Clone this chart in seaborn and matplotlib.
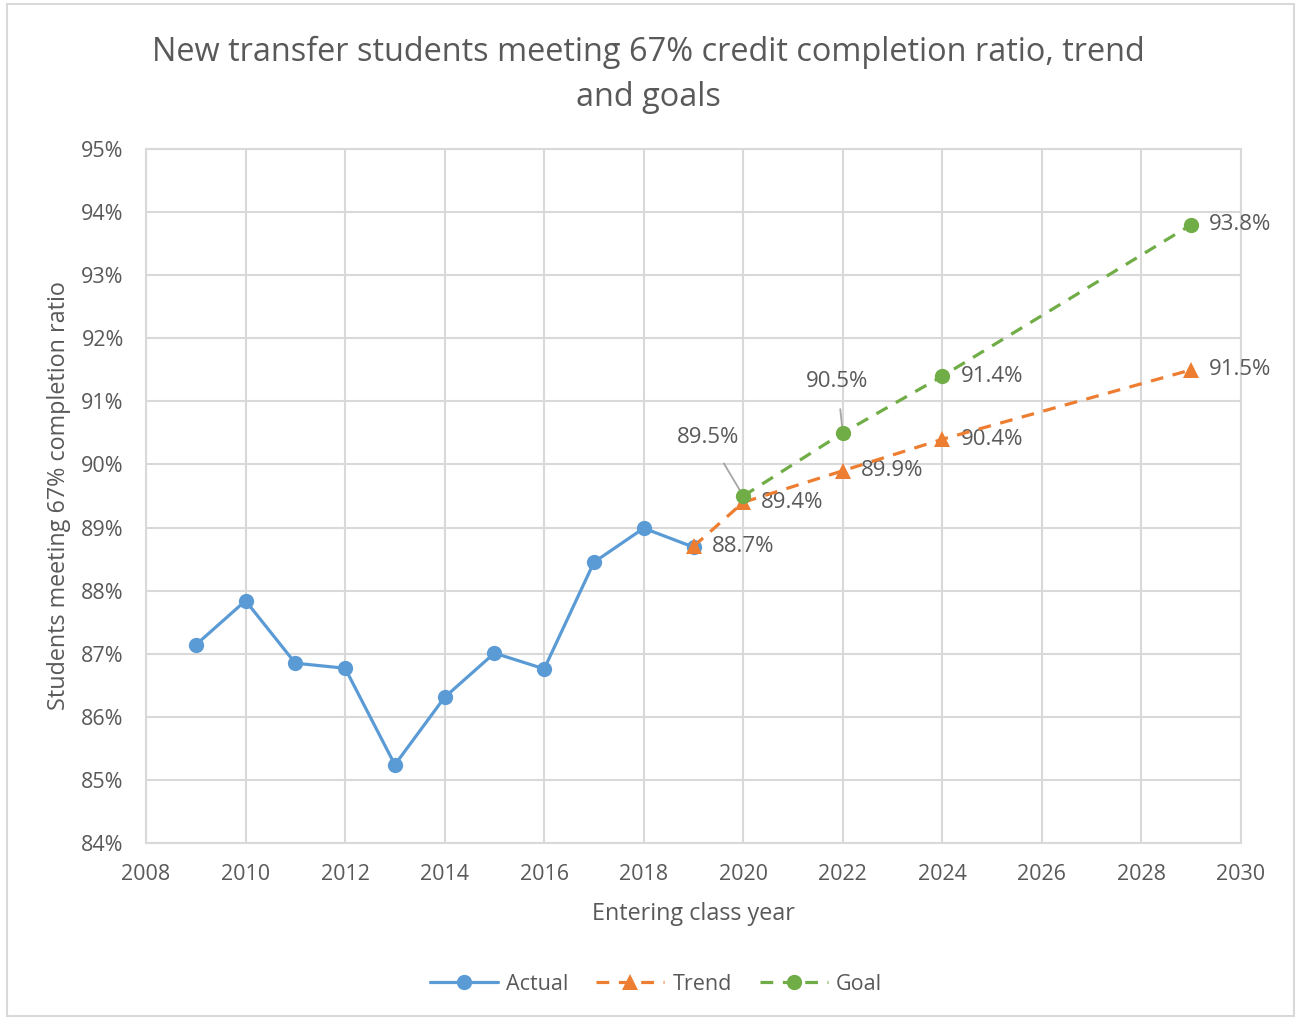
import matplotlib
matplotlib.use("Agg")
import matplotlib.pyplot as plt
import pandas as pd
import seaborn as sns
from matplotlib.patches import Rectangle
from matplotlib.ticker import FuncFormatter

# data
actual_years = [2009, 2010, 2011, 2012, 2013, 2014, 2015, 2016, 2017, 2018, 2019]
actual_vals = [87.14, 87.84, 86.85, 86.77, 85.24, 86.31, 87.01, 86.76, 88.45, 88.99, 88.69]
trend_years = [2019, 2020, 2022, 2024, 2029]
trend_vals = [88.7, 89.4, 89.9, 90.4, 91.5]
goal_years = [2020, 2022, 2024, 2029]
goal_vals = [89.5, 90.5, 91.4, 93.8]

blue = "#5B9BD5"
orange = "#ED7D31"
green = "#70AD47"
txt = "#595959"
grid = "#D9D9D9"

sns.set_theme(style="white")
plt.rcParams['font.family'] = ['Open Sans', 'DejaVu Sans']

fig = plt.figure(figsize=(12.96, 10.18), dpi=100)
ax = fig.add_axes([146 / 1296, 1 - 843 / 1018, (1241 - 146) / 1296, (843 - 149) / 1018])

df_a = pd.DataFrame({'year': actual_years, 'val': actual_vals})
df_t = pd.DataFrame({'year': trend_years, 'val': trend_vals})
df_g = pd.DataFrame({'year': goal_years, 'val': goal_vals})

sns.lineplot(df_a, x='year', y='val', ax=ax, color=blue, lw=2.3, marker='o',
             markersize=11, markeredgewidth=0, label='Actual', zorder=3)
sns.lineplot(df_t, x='year', y='val', ax=ax, color=orange, lw=2.3, marker='^',
             markersize=11, markeredgewidth=0, label='Trend', zorder=4)
sns.lineplot(df_g, x='year', y='val', ax=ax, color=green, lw=2.3, marker='o',
             markersize=11, markeredgewidth=0, label='Goal', zorder=5)
ax.lines[1].set_dashes([4, 3])
ax.lines[2].set_dashes([4, 3])

ax.set_xlim(2008, 2030)
ax.set_ylim(84, 95)
ax.set_xticks(range(2008, 2031, 2))
ax.set_yticks(range(84, 96))
ax.yaxis.set_major_formatter(FuncFormatter(lambda v, p: f"{v:.0f}%"))
ax.grid(True, color=grid, lw=1.5)
ax.set_axisbelow(True)
for s in ax.spines.values():
    s.set_color(grid)
    s.set_linewidth(1.5)
ax.tick_params(axis='both', length=0, labelsize=15.5, labelcolor=txt)
ax.tick_params(axis='x', pad=15)
ax.tick_params(axis='y', pad=16)

ax.set_xlabel("Entering class year", fontsize=16.8, color=txt)
ax.xaxis.set_label_coords(0.5, -0.085)
ax.set_ylabel("Students meeting 67% completion ratio", fontsize=16.8, color=txt, labelpad=7)
fig.text(0.5, 1 - 75 / 1018,
         "New transfer students meeting 67% credit completion ratio, trend\nand goals",
         ha='center', va='center', fontsize=23.4, color=txt, linespacing=1.45)

# data labels
for x, y in zip(trend_years, trend_vals):
    ax.annotate(f"{y:.1f}%", (x, y), xytext=(13, 0), textcoords='offset points',
                ha='left', va='center', fontsize=16, color=txt)
for x, y in zip(goal_years, goal_vals):
    if x == 2020:
        ax.annotate(f"{y:.1f}%", (x, y), xytext=(-25, 42), textcoords='offset points',
                    ha='center', va='center', fontsize=16, color=txt,
                    arrowprops=dict(arrowstyle='-', color='#A6A6A6', lw=1.3, shrinkA=10, shrinkB=4))
    elif x == 2022:
        ax.annotate(f"{y:.1f}%", (x, y), xytext=(-4, 37), textcoords='offset points',
                    ha='center', va='center', fontsize=16, color=txt,
                    arrowprops=dict(arrowstyle='-', color='#A6A6A6', lw=1.3, shrinkA=10, shrinkB=4))
    else:
        ax.annotate(f"{y:.1f}%", (x, y), xytext=(13, 0), textcoords='offset points',
                    ha='left', va='center', fontsize=16, color=txt)

leg = ax.legend(loc='center', bbox_to_anchor=(656 / 1296, 1 - 984 / 1018),
                bbox_transform=fig.transFigure, ncol=3, frameon=False,
                fontsize=15.5, handlelength=3.16, columnspacing=1.3, handletextpad=0.37)
for t in leg.get_texts():
    t.set_color(txt)

fig.patches.append(Rectangle((7 / 1296, 2 / 1018), 1287 / 1296, 1012 / 1018,
                             transform=fig.transFigure, fill=False,
                             edgecolor=grid, lw=1.5))

fig.savefig("out.png", dpi=100)
